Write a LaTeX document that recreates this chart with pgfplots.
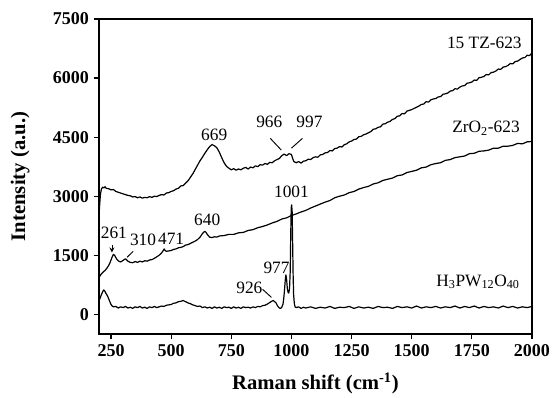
\documentclass[border=0pt]{standalone}
\usepackage{pgfplots}
\pgfplotsset{compat=1.18}
\usepackage{fontspec}
\setmainfont{Liberation Serif}

\begin{document}
\begin{tikzpicture}
\begin{axis}[
  name=ax,
  scale only axis,
  width=324.75pt, height=236.25pt,
  xmin=200, xmax=2000, ymin=-500, ymax=7500,
  xtick={250,500,...,2000}, ytick={0,1500,...,7500},
  tick align=outside, xtick pos=bottom, ytick pos=left,
  major tick length=4pt,
  axis line style={line width=0.9pt},
  every tick/.style={line width=0.9pt, black},
  /pgf/number format/assume math mode=true,
  /pgf/number format/1000 sep={},
  ticklabel style={font=\fontsize{13.5}{15}\selectfont\bfseries},
  xlabel={Raman shift (cm\textsuperscript{-1})},
  ylabel={Intensity (a.u.)},
  label style={font=\fontsize{15.5}{18}\selectfont\bfseries},
  xlabel style={at={(axis description cs:0.5,-0.156)}, anchor=center},
  ylabel style={at={(axis description cs:-0.182,0.5)}, anchor=center},
  clip=true,
]
% 15 TZ-623
\addplot[black, mark=none, line width=0.9pt, line join=round] coordinates {
(200,2500)(203,2800)(206,3050)(210,3180)(215,3230)(220,3210)(225,3240)(230,3200)(240,3190)(250,3160)
(260,3170)(270,3120)(280,3100)(290,3080)(300,3060)(310,3040)(320,3020)(330,3010)(340,2980)(350,2990)
(360,2960)(370,2980)(380,2950)(390,2970)(400,2960)(410,2990)(420,2970)(430,3000)(440,2990)(450,3020)
(460,3040)(470,3030)(480,3080)(490,3090)(500,3120)(510,3140)(520,3180)(530,3200)(540,3260)(550,3270)
(560,3330)(570,3390)(580,3480)(590,3570)(600,3680)(610,3790)(620,3900)(630,3990)(640,4090)(650,4180)
(660,4260)(670,4310)(680,4280)(690,4230)(700,4120)(710,3980)(720,3850)(730,3760)(740,3710)(750,3670)
(760,3700)(770,3660)(780,3690)(790,3670)(800,3710)(810,3730)(820,3690)(830,3740)(840,3720)(850,3770)
(860,3750)(870,3800)(880,3790)(890,3830)(900,3810)(910,3860)(920,3850)(930,3900)(940,3930)(950,3960)
(960,4030)(970,4070)(980,4030)(990,4080)(1000,4060)(1005,3960)(1010,3880)(1020,3850)(1030,3880)(1040,3840)
(1050,3890)(1060,3900)(1070,3940)(1080,3930)(1090,3980)(1100,4000)(1110,3990)(1120,4050)(1130,4060)(1140,4100)
(1150,4110)(1160,4160)(1170,4150)(1180,4210)(1190,4220)(1200,4260)(1210,4250)(1220,4310)(1230,4330)(1240,4380)
(1250,4400)(1260,4440)(1270,4450)(1280,4510)(1290,4520)(1300,4560)(1310,4580)(1320,4610)(1330,4640)(1340,4700)
(1350,4710)(1360,4750)(1370,4760)(1380,4830)(1390,4840)(1400,4880)(1410,4900)(1420,4950)(1430,4970)(1440,5030)
(1450,5040)(1460,5100)(1470,5090)(1480,5160)(1490,5180)(1500,5200)(1510,5230)(1520,5260)(1530,5290)(1540,5330)
(1550,5340)(1560,5400)(1570,5390)(1580,5450)(1590,5470)(1600,5480)(1610,5520)(1620,5530)(1630,5590)(1640,5600)
(1650,5620)(1660,5670)(1670,5680)(1680,5730)(1690,5720)(1700,5770)(1710,5800)(1720,5810)(1730,5870)(1740,5880)
(1750,5900)(1760,5950)(1770,5940)(1780,6010)(1790,6020)(1800,6040)(1810,6090)(1820,6080)(1830,6140)(1840,6150)
(1850,6180)(1860,6230)(1870,6220)(1880,6280)(1890,6290)(1900,6320)(1910,6370)(1920,6360)(1930,6420)(1940,6430)
(1950,6470)(1960,6510)(1970,6520)(1980,6580)(1990,6570)(2000,6640)
};
% ZrO2-623
\addplot[black, mark=none, line width=0.9pt, line join=round] coordinates {
(200,950)(205,980)(210,1030)(215,1060)(220,1090)(225,1110)(230,1150)(235,1190)(240,1240)(245,1300)
(250,1380)(255,1460)(260,1520)(265,1500)(270,1440)(275,1390)(280,1360)(285,1340)(290,1330)(295,1350)
(300,1370)(305,1390)(310,1410)(315,1380)(320,1350)(330,1320)(340,1310)(350,1340)(360,1320)(370,1350)
(380,1330)(390,1360)(400,1350)(410,1380)(420,1390)(430,1420)(440,1460)(450,1500)(460,1560)(465,1600)
(471,1660)(475,1620)(480,1600)(490,1610)(500,1620)(510,1650)(520,1660)(530,1690)(540,1700)(550,1720)
(560,1760)(570,1770)(580,1800)(590,1830)(600,1860)(610,1900)(620,1960)(630,2050)(640,2110)(645,2080)
(650,2030)(660,1960)(670,1950)(680,1970)(690,1960)(700,1990)(720,2000)(740,2030)(760,2030)(780,2070)
(800,2080)(820,2130)(840,2150)(860,2200)(880,2230)(900,2270)(920,2320)(940,2360)(960,2420)(980,2450)
(1000,2510)(1020,2550)(1040,2600)(1060,2640)(1080,2700)(1100,2750)(1120,2800)(1140,2850)(1160,2890)(1180,2960)
(1200,3000)(1220,3030)(1240,3090)(1260,3120)(1280,3180)(1300,3220)(1320,3250)(1340,3310)(1360,3340)(1380,3400)
(1400,3430)(1420,3460)(1440,3520)(1460,3540)(1480,3600)(1500,3630)(1520,3660)(1540,3720)(1560,3740)(1580,3800)
(1600,3830)(1620,3850)(1640,3910)(1660,3930)(1680,3980)(1700,4000)(1720,4020)(1740,4080)(1760,4090)(1780,4140)
(1800,4150)(1820,4170)(1840,4220)(1860,4220)(1880,4270)(1900,4270)(1920,4290)(1940,4340)(1960,4330)(1980,4380)
(2000,4390)
};
% H3PW12O40
\addplot[black, mark=none, line width=0.9pt, line join=round] coordinates {
(200,340)(205,420)(210,500)(215,570)(220,620)(225,580)(230,520)(235,470)(240,400)(245,320)
(250,250)(255,210)(260,190)(270,200)(280,160)(290,190)(300,170)(310,200)(320,160)(330,180)
(340,150)(350,190)(360,170)(370,200)(380,160)(390,180)(400,150)(410,190)(420,170)(430,200)
(440,170)(450,190)(460,210)(470,200)(480,230)(490,240)(500,250)(510,280)(520,290)(530,320)
(540,330)(550,350)(560,320)(570,290)(580,270)(590,240)(600,220)(610,200)(620,210)(630,170)
(640,190)(650,160)(660,180)(670,150)(680,190)(690,160)(700,180)(710,150)(720,190)(730,170)
(740,180)(750,150)(760,190)(770,160)(780,180)(790,150)(800,190)(810,170)(820,180)(830,160)
(840,190)(850,170)(860,200)(870,190)(880,220)(890,230)(900,260)(910,300)(920,340)(925,350)
(930,320)(935,300)(940,240)(945,190)(950,160)(955,150)(960,180)(965,260)(968,400)(971,600)
(974,850)(977,1000)(980,880)(983,650)(986,560)(989,540)(992,650)(995,1100)(997,2000)(999,2700)
(1001,2780)(1003,2600)(1005,1800)(1007,1000)(1009,500)(1012,280)(1015,190)(1020,170)(1030,190)(1040,150)
(1050,180)(1060,160)(1080,190)(1100,150)(1120,180)(1140,160)(1160,200)(1180,150)(1200,180)(1220,170)
(1240,200)(1260,150)(1280,190)(1300,160)(1320,180)(1340,150)(1360,200)(1380,170)(1400,180)(1420,150)
(1440,200)(1460,170)(1480,190)(1500,160)(1520,210)(1540,160)(1560,190)(1580,170)(1600,200)(1620,160)
(1640,190)(1660,170)(1680,210)(1700,160)(1720,200)(1740,170)(1760,210)(1780,160)(1800,200)(1820,170)
(1840,190)(1860,160)(1880,210)(1900,170)(1920,200)(1940,160)(1960,190)(1980,170)(2000,200)
};
% annotations
\begin{scope}[every node/.style={font=\fontsize{13}{15}\selectfont, inner sep=0pt}]
\node at (axis cs:679,4550) {669};
\node at (axis cs:908,4880) {966};
\node at (axis cs:1075,4880) {997};
\draw[line width=0.7pt] (axis cs:912,4470) -- (axis cs:958,4170);
\draw[line width=0.7pt] (axis cs:1046,4470) -- (axis cs:1000,4220);
\node[anchor=east] at (axis cs:1958,6885) {15 TZ-623};
\node[anchor=east] at (axis cs:1950,4720) {ZrO\textsubscript{2}-623};
\node[anchor=east] at (axis cs:1950,830) {H\textsubscript{3}PW\textsubscript{12}O\textsubscript{40}};
\node at (axis cs:1000,3100) {1001};
\node at (axis cs:938,1170) {977};
\node at (axis cs:825,660) {926};
\draw[line width=0.7pt] (axis cs:880,635) -- (axis cs:917,430);
\node at (axis cs:650,2390) {640};
\node at (axis cs:500,1930) {471};
\node at (axis cs:383,1880) {310};
\draw[line width=0.7pt] (axis cs:342,1600) -- (axis cs:317,1450);
\node at (axis cs:262,2060) {261};
\draw[line width=0.7pt,-stealth] (axis cs:254,1760) -- (axis cs:254,1570);
\end{scope}
\end{axis}
\pgfresetboundingbox
\path[use as bounding box] (-74.25pt,-47.25pt) rectangle (341.25pt,250.5pt);
\end{tikzpicture}
\end{document}
